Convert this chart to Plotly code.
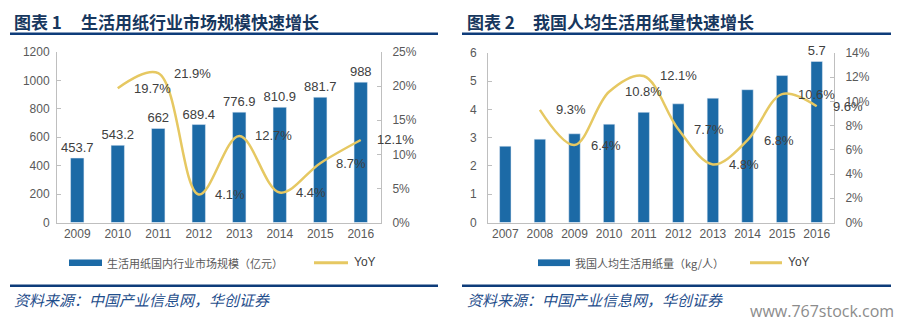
import plotly.graph_objects as go

# ---------------- data ----------------
years1 = ['2009', '2010', '2011', '2012', '2013', '2014', '2015', '2016']
market_size = [453.7, 543.2, 662, 689.4, 776.9, 810.9, 881.7, 988]
yoy1_years = ['2010', '2011', '2012', '2013', '2014', '2015', '2016']
yoy1 = [19.7, 21.9, 4.1, 12.7, 4.4, 8.7, 12.1]

years2 = ['2007', '2008', '2009', '2010', '2011', '2012', '2013', '2014', '2015', '2016']
per_capita = [2.7, 2.95, 3.14, 3.48, 3.9, 4.2, 4.4, 4.7, 5.2, 5.7]
per_capita_labelled = ['2016']
yoy2_years = ['2008', '2009', '2010', '2011', '2012', '2013', '2014', '2015', '2016']
yoy2 = [9.3, 6.4, 10.8, 12.1, 7.7, 4.8, 6.8, 10.6, 9.6]

title1_prefix = '图表 1'
title1 = '生活用纸行业市场规模快速增长'
title2_prefix = '图表 2'
title2 = '我国人均生活用纸量快速增长'
legend1_bar = '生活用纸国内行业市场规模（亿元）'
legend2_bar = '我国人均生活用纸量（kg/人）'
legend_line = 'YoY'
source_text = '资料来源：中国产业信息网，华创证券'
watermark = 'www.767stock.com'

# ---------------- style ----------------
W, H = 906, 332
BAR = '#1C6AA6'
LINE = '#E6C862'
NAVY = '#0E3C7A'
AXIS = '#BFBFBF'
TICK_FONT = dict(family='Liberation Sans, Arial', size=12, color='#595959')
LABEL_FONT = dict(family='Liberation Sans, Arial', size=13, color='#404040')
CJK = 'Noto Sans CJK SC'


def fx(p):
    return p / W


def fy(p):
    return 1 - p / H


fig = go.Figure()

# Chart 1
fig.add_trace(go.Bar(
    x=years1, y=market_size, xaxis='x', yaxis='y', marker_color=BAR, width=0.33,
    text=[f'{v:g}' for v in market_size], textposition='outside', cliponaxis=False,
    constraintext='none', textfont=LABEL_FONT, showlegend=False))
fig.add_trace(go.Scatter(
    x=yoy1_years, y=yoy1, xaxis='x', yaxis='y2', mode='lines',
    line=dict(color=LINE, width=2.5, shape='spline', smoothing=1), showlegend=False))

# Chart 2
fig.add_trace(go.Bar(
    x=years2, y=per_capita, xaxis='x3', yaxis='y3', marker_color=BAR, width=0.33,
    text=[f'{v:g}' if yr in per_capita_labelled else '' for yr, v in zip(years2, per_capita)],
    textposition='outside', cliponaxis=False, constraintext='none',
    textfont=LABEL_FONT, showlegend=False))
fig.add_trace(go.Scatter(
    x=yoy2_years, y=yoy2, xaxis='x3', yaxis='y4', mode='lines',
    line=dict(color=LINE, width=2.5, shape='spline', smoothing=1), showlegend=False))

annotations = []
for yr, v in zip(yoy1_years, yoy1):
    annotations.append(dict(x=years1.index(yr), y=v, xref='x', yref='y2', text=f'{v}%',
                            showarrow=False, xanchor='left', yanchor='middle', xshift=14,
                            font=LABEL_FONT))
for yr, v in zip(yoy2_years, yoy2):
    annotations.append(dict(x=years2.index(yr), y=v, xref='x3', yref='y4', text=f'{v}%',
                            showarrow=False, xanchor='left', yanchor='middle', xshift=14,
                            font=LABEL_FONT))

title_font = dict(family=CJK, size=17, color='#17375E', weight='bold')
for px0, pre, px1, txt in [(12, title1_prefix, 79, title1), (465, title2_prefix, 531, title2)]:
    annotations.append(dict(x=fx(px0), y=fy(15), xref='paper', yref='paper', text=pre,
                            showarrow=False, xanchor='left', yanchor='middle', font=title_font))
    annotations.append(dict(x=fx(px1), y=fy(15), xref='paper', yref='paper', text=txt,
                            showarrow=False, xanchor='left', yanchor='middle', font=title_font))

src_font = dict(family=CJK, size=15, color='#1F4E8C', style='italic')
for px0 in [12, 465]:
    annotations.append(dict(x=fx(px0), y=fy(305), xref='paper', yref='paper', text=source_text,
                            showarrow=False, xanchor='left', yanchor='middle', font=src_font))

annotations.append(dict(x=fx(896), y=fy(317), xref='paper', yref='paper', text=watermark,
                        showarrow=False, xanchor='right', yanchor='middle',
                        font=dict(family='Open Sans', size=16, color='#8C8C8C')))

# Legends (manual)
shapes = []
leg_font = dict(family=CJK, size=11, color='#595959')
yoy_font = dict(family='Liberation Sans, Arial', size=12, color='#404040')
for r0, r1, txt, l0, l1 in [(69, 102, legend1_bar, 314, 348), (538, 570, legend2_bar, 750, 782)]:
    shapes.append(dict(type='rect', xref='paper', yref='paper', x0=fx(r0), x1=fx(r1),
                       y0=fy(270.5), y1=fy(263.5), fillcolor=BAR, line_width=0))
    annotations.append(dict(x=fx(r1 + 3), y=fy(267), xref='paper', yref='paper', text=txt,
                            showarrow=False, xanchor='left', yanchor='middle', font=leg_font))
    shapes.append(dict(type='line', xref='paper', yref='paper', x0=fx(l0), x1=fx(l1),
                       y0=fy(267), y1=fy(267), line=dict(color=LINE, width=3)))
    annotations.append(dict(x=fx(l1 + 4), y=fy(266), xref='paper', yref='paper', text=legend_line,
                            showarrow=False, xanchor='left', yanchor='middle', font=yoy_font))

# Rules
for a, b in [(10, 438), (462, 891)]:
    for yy in [28, 291]:
        shapes.append(dict(type='line', xref='paper', yref='paper', x0=fx(a), x1=fx(b),
                           y0=fy(yy), y1=fy(yy), line=dict(color=NAVY, width=2.5)))

xcommon = dict(type='category', showline=True, linecolor=AXIS, linewidth=1, ticks='',
               showgrid=False, tickfont=TICK_FONT, zeroline=False, fixedrange=True)
ycommon = dict(showline=True, linecolor=AXIS, linewidth=1, ticks='inside', ticklen=4,
               tickcolor=AXIS, showgrid=False, zeroline=False, tickfont=TICK_FONT)

fig.update_layout(
    width=W, height=H, margin=dict(l=0, r=0, t=0, b=0),
    paper_bgcolor='white', plot_bgcolor='white', showlegend=False,
    xaxis=dict(domain=[fx(57), fx(381)], anchor='y', range=[-0.5, len(years1) - 0.5], **xcommon),
    yaxis=dict(domain=[fy(225), fy(47)], range=[0, 1200], dtick=200, anchor='x',
               ticklabelstandoff=4, **ycommon),
    yaxis2=dict(overlaying='y', side='right', anchor='x', range=[0, 25], dtick=5,
                ticksuffix='%', ticklabelstandoff=8, **ycommon),
    xaxis3=dict(domain=[fx(488), fx(834)], anchor='y3', range=[-0.5, len(years2) - 0.5], **xcommon),
    yaxis3=dict(domain=[fy(225), fy(48)], range=[0, 6], dtick=1, anchor='x3',
                ticklabelstandoff=8, **ycommon),
    yaxis4=dict(overlaying='y3', side='right', anchor='x3', range=[0, 14], dtick=2,
                ticksuffix='%', ticklabelstandoff=8, **ycommon),
    annotations=annotations, shapes=shapes,
)

fig.write_html('out.html')
